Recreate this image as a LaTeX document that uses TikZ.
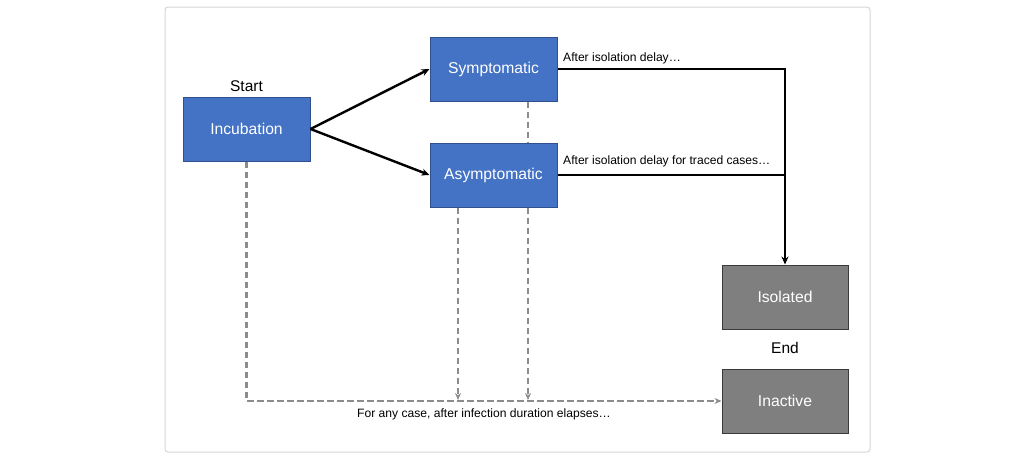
\documentclass[tikz,border=0pt]{standalone}
\usepackage{fontspec}
\setmainfont{Liberation Sans}
\usetikzlibrary{arrows.meta}
\definecolor{boxblue}{HTML}{4472C4}
\definecolor{boxblueedge}{HTML}{2F4F8F}
\definecolor{boxgray}{HTML}{7F7F7F}
\definecolor{boxgrayedge}{HTML}{3A3A3A}
\definecolor{dashgray}{HTML}{8C8C8C}
\definecolor{framegray}{HTML}{D6D6D6}
\begin{document}
\begin{tikzpicture}[x=1pt,y=-1pt,
  state/.style={draw=boxblueedge, line width=1pt, fill=boxblue, text=white,
    minimum width=127pt, minimum height=64pt, inner sep=0pt,
    font=\fontsize{15.7}{18}\selectfont},
  final/.style={state, draw=boxgrayedge, fill=boxgray, minimum width=126pt},
  tag/.style={font=\fontsize{15.5}{18}\selectfont, inner sep=0pt},
  note/.style={font=\fontsize{12.1}{14}\selectfont, inner sep=0pt},
  flow/.style={line width=2.4pt, -{Stealth[length=8pt,width=7pt]}},
  plain/.style={line width=2.4pt},
  lapse/.style={draw=dashgray, line width=2.4pt, dash pattern=on 6.5pt off 3.5pt},
  lapsearrow/.style={lapse, -{Stealth[length=7pt,width=6pt]}}
]
\useasboundingbox (0,0) rectangle (1016,461);
\fill[white] (0,0) rectangle (1016,461);
\draw[framegray, line width=1pt, rounded corners=3pt] (165,7) rectangle (870,452);

% states
\node[state] (inc)   at (246.5,129) {Incubation};
\node[state] (sym)   at (493.5,69)  {Symptomatic};
\node[state] (asym)  at (493.5,175) {Asymptomatic};
\node[final] (iso)   at (785,297)   {Isolated};
\node[final] (inact) at (785,401)   {Inactive};

\node[tag] (start) at (246.5,86) {Start};
\node[tag] (end)   at (785,348)  {End};

% junctions on the bottom dashed line
\coordinate (j1) at (458,400);
\coordinate (j2) at (528,400);

% infection elapses: dashed paths to Inactive
\draw[lapse] ([xshift=34.5pt]sym.south) -- ([xshift=34.5pt]asym.north);
\draw[lapsearrow] ([xshift=34.5pt]asym.south) -- (j2);
\draw[lapsearrow] ([xshift=-35.5pt]asym.south) -- (j1);
\draw[lapsearrow] (inc.south) |- (inact.west);

% onset
\draw[flow] (inc.east) -- (sym.west);
\draw[flow] (inc.east) -- (asym.west);

% isolation
\coordinate (merge) at (asym.east -| iso.north);
\draw[flow] (sym.east) -| (iso.north);
\draw[plain] (asym.east) -- (merge);

% labels
\node[note, anchor=west] (l1) at (563,58)  {After isolation delay…};
\node[note, anchor=west] (l2) at (563,161) {After isolation delay for traced cases…};
\node[note] (l3) at (484,414) {For any case, after infection duration elapses…};
\end{tikzpicture}
\end{document}
